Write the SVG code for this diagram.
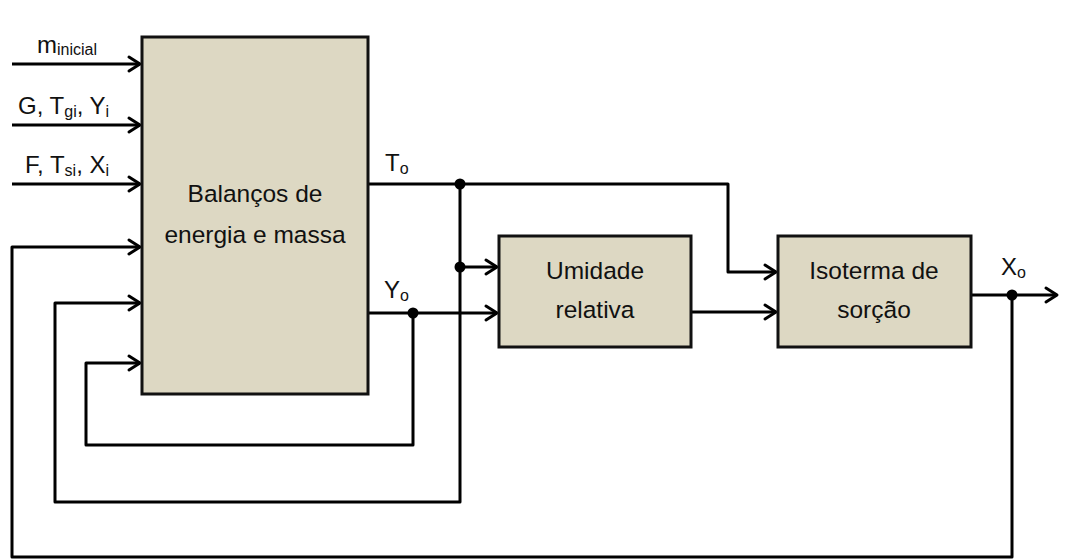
<svg xmlns="http://www.w3.org/2000/svg" width="1067" height="560" viewBox="0 0 1067 560">
<style>
.box{fill:#ddd8c3;stroke:#111;stroke-width:3}
.t{font-family:"Liberation Sans",Arial,sans-serif;font-size:24.5px;fill:#111;text-anchor:middle}
.l{font-family:"Liberation Sans",Arial,sans-serif;font-size:24px;fill:#111}
.s{font-size:16px}
.w{fill:none;stroke:#000;stroke-width:3;stroke-linejoin:round}
.a{marker-end:url(#ah)}
.d{fill:#000}
</style>
<defs>
<marker id="ah" markerUnits="userSpaceOnUse" markerWidth="20" markerHeight="20" viewBox="-14 -10 16 20" refX="0" refY="0" orient="auto">
<path d="M-11,-7 L0,0 L-11,7" fill="none" stroke="#000" stroke-width="3" stroke-linecap="round" stroke-linejoin="round"/>
</marker>
</defs>
<g id="connectors">
<path class="w a" d="M12,64 H140"/>
<path class="w a" d="M12,125 H140"/>
<path class="w a" d="M12,184 H140"/>
<path class="w a" d="M1012,295 V557 H12 V247 H140"/>
<path class="w a" d="M460,184 V502 H55 V303 H140"/>
<path class="w a" d="M413,313 V445 H86 V363 H140"/>
<path class="w a" d="M368,184 H728 V272 H776"/>
<path class="w a" d="M460,267 H497"/>
<path class="w a" d="M368,313 H497"/>
<path class="w a" d="M691,312 H776"/>
<path class="w a" d="M971,295 H1057"/>
<circle class="d" cx="460" cy="184" r="5.5"/>
<circle class="d" cx="460" cy="267" r="5.5"/>
<circle class="d" cx="413" cy="313" r="5.5"/>
<circle class="d" cx="1012" cy="295" r="5.5"/>
</g>
<g id="balancos">
<rect class="box" x="142" y="37" width="226" height="357"/>
<text class="t" x="255" y="202">Balanços de</text>
<text class="t" x="255" y="243">energia e massa</text>
</g>
<g id="umidade">
<rect class="box" x="499" y="236" width="192" height="111"/>
<text class="t" x="595" y="279">Umidade</text>
<text class="t" x="595" y="318">relativa</text>
</g>
<g id="isoterma">
<rect class="box" x="778" y="236" width="193" height="111"/>
<text class="t" x="874" y="279">Isoterma de</text>
<text class="t" x="874" y="318">sorção</text>
</g>
<g id="labels">
<text class="l" x="37" y="53">m<tspan class="s" dy="2">inicial</tspan></text>
<text class="l" x="18" y="114">G, T<tspan class="s" dy="3">gi</tspan><tspan dy="-3">, Y</tspan><tspan class="s" dy="3">i</tspan></text>
<text class="l" x="25" y="173">F, T<tspan class="s" dy="3">si</tspan><tspan dy="-3">, X</tspan><tspan class="s" dy="3">i</tspan></text>
<text class="l" x="385" y="171">T<tspan class="s" dy="3">o</tspan></text>
<text class="l" x="384" y="298">Y<tspan class="s" dy="3">o</tspan></text>
<text class="l" x="1001" y="275">X<tspan class="s" dy="3">o</tspan></text>
</g>
</svg>
